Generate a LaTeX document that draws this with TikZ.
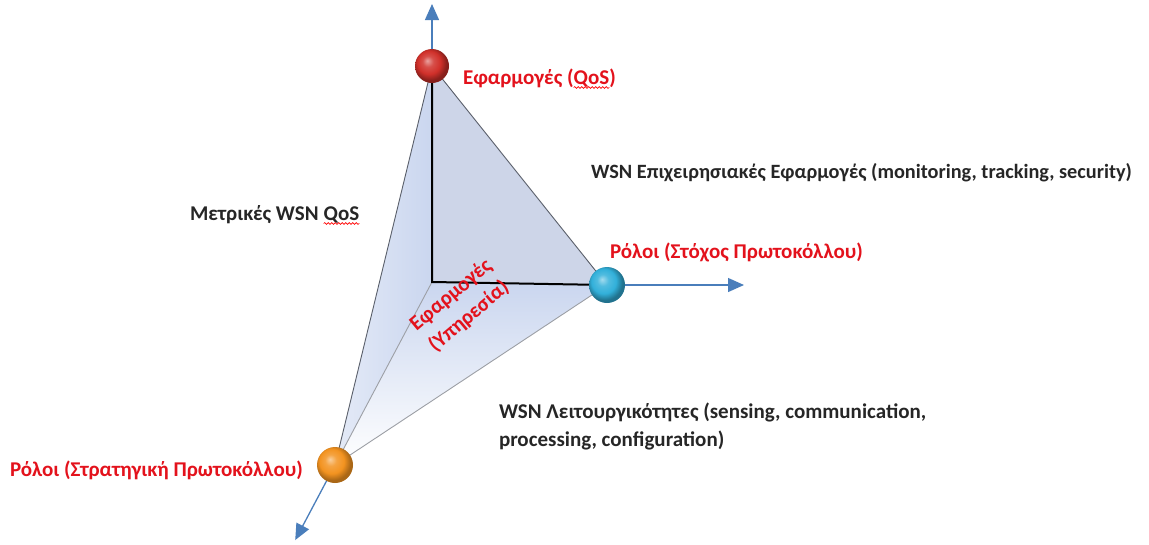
\documentclass[tikz,border=0pt]{standalone}
\usepackage{fontspec}
\setmainfont{Carlito}
\usetikzlibrary{arrows.meta,decorations.pathmorphing,calc}

\definecolor{axisblue}{HTML}{4A7EBB}
\definecolor{labelred}{HTML}{E3121C}
\definecolor{facedark}{HTML}{CDD5E8}
\definecolor{facemid}{HTML}{CAD6EF}
\definecolor{edgegray}{HTML}{5A5F6A}
\definecolor{ballred}{HTML}{D0302A}
\definecolor{ballcyan}{HTML}{32B0DA}
\definecolor{ballorange}{HTML}{F39320}

% glossy sphere shadings, highlight to the upper left
\pgfdeclareradialshading{redsphere}{\pgfqpoint{-7bp}{8bp}}{%
  color(0bp)=(ballred!45!white); color(8bp)=(ballred!85!white);
  color(17bp)=(ballred); color(25bp)=(ballred!65!black); color(50bp)=(ballred!65!black)}
\pgfdeclareradialshading{cyansphere}{\pgfqpoint{-7bp}{8bp}}{%
  color(0bp)=(ballcyan!45!white); color(8bp)=(ballcyan!85!white);
  color(17bp)=(ballcyan); color(25bp)=(ballcyan!65!black); color(50bp)=(ballcyan!65!black)}
\pgfdeclareradialshading{orangesphere}{\pgfqpoint{-7bp}{8bp}}{%
  color(0bp)=(ballorange!45!white); color(8bp)=(ballorange!85!white);
  color(17bp)=(ballorange); color(25bp)=(ballorange!70!black); color(50bp)=(ballorange!70!black)}

\tikzset{
  axis/.style={axisblue, line width=1.3pt, -{Triangle[width=14pt,length=16pt]}},
  mainedge/.style={black, line width=2pt},
  thinedge/.style={edgegray, line width=0.9pt},
  lbl/.style={inner sep=0pt, outer sep=0pt, font=\bfseries\fontsize{21}{28}\selectfont},
  redlbl/.style={lbl, text=labelred},
  blacklbl/.style={lbl, text=black!85},
  spell/.style={red, line width=0.6pt, decorate,
    decoration={snake, amplitude=0.9pt, segment length=3.5pt}},
  sphere/.style={circle, minimum size=36pt, inner sep=0pt}
}

\begin{document}
\begin{tikzpicture}[x=1pt, y=-1pt]
\useasboundingbox (0,0) rectangle (1149,544);

% vertices of the tetrahedron
\coordinate (O) at (432,282);
\coordinate (T) at (432,66);
\coordinate (R) at (607,285);
\coordinate (B) at (335,465);

% axis end points
\coordinate (Ttip) at (432,4);
\coordinate (Rtip) at (744,285);
\coordinate (Btip) at ($(O)!1.41!(B)$);

% faces
\fill[facedark] (T) -- (O) -- (R) -- cycle;
\shade[left color=white!50!facemid, right color=facemid] (T) -- (O) -- (B) -- cycle;
\shade[top color=facemid, bottom color=white] (O) -- (R) -- (B) -- cycle;

% edges
\draw[thinedge] (T) -- (B);
\draw[thinedge, edgegray!60] (O) -- (B);
\draw[thinedge, edgegray!60] (R) -- (B);
\draw[thinedge] (T) -- (R);

% axes
\draw[axis] (T) -- (Ttip);
\draw[axis] (R) -- (Rtip);
\draw[axis] (B) -- (Btip);

\draw[mainedge] (T) -- (O) -- (R);

% vertex spheres
\node[sphere, shading=redsphere, minimum size=34pt] (sT) at (T) {};
\node[sphere, shading=cyansphere] (sR) at (R) {};
\node[sphere, shading=orangesphere] (sB) at (B) {};

% vertex labels
\node[redlbl, anchor=base west] (qa) at (463,84) {Εφαρμογές (};
\node[redlbl, anchor=base west] (qb) at (qa.base east) {QoS};
\node[redlbl, anchor=base west] (qc) at (qb.base east) {)};
\draw[spell] ([yshift=-3.5pt]qb.base west) -- ([yshift=-3.5pt]qb.base east);

\node[redlbl, anchor=base west] (goal) at (610,258) {Ρόλοι (Στόχος Πρωτοκόλλου)};
\node[redlbl, anchor=base west] (strat) at (10,476) {Ρόλοι (Στρατηγική Πρωτοκόλλου)};

\node[redlbl, align=center, rotate=40] (serv) at (460,306) {Εφαρμογές\\(Υπηρεσία)};

% face labels
\node[blacklbl, anchor=base west, font=\bfseries\fontsize{20.3}{26}\selectfont] (biz) at (591,178)
  {WSN Επιχειρησιακές Εφαρμογές (monitoring, tracking, security)};

\node[blacklbl, anchor=base west] (ma) at (190,220) {Μετρικές WSN};
\node[blacklbl, anchor=base west, xshift=5pt] (mb) at (ma.base east) {QoS};
\draw[spell] ([yshift=-3.5pt]mb.base west) -- ([yshift=-3.5pt]mb.base east);

\node[blacklbl, anchor=base west] (func) at (499,418)
  {WSN Λειτουργικότητες (sensing, communication,};
\node[blacklbl, anchor=base west] (func2) at (499,446)
  {processing, configuration)};
\end{tikzpicture}
\end{document}
